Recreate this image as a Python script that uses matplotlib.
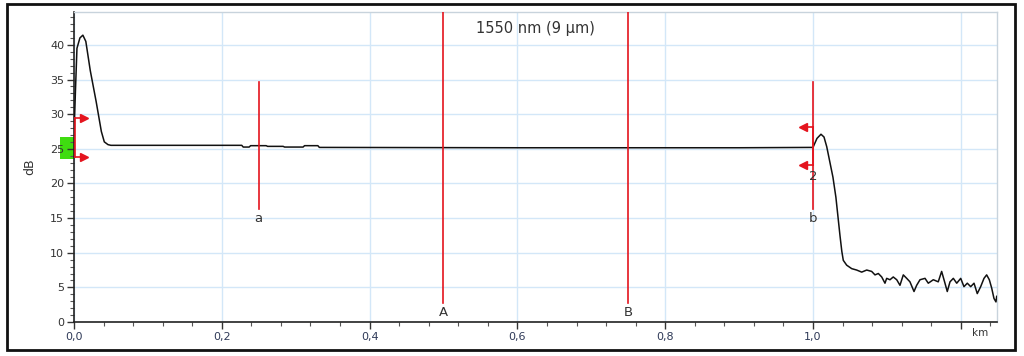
import matplotlib
matplotlib.use("Agg")
import matplotlib.pyplot as plt
from matplotlib.ticker import MultipleLocator, FuncFormatter
from matplotlib.patches import Rectangle

# ---- data ----
dist_km = [0.0, 0.002, 0.004, 0.008, 0.012, 0.016, 0.022, 0.030, 0.037, 0.041, 0.046, 0.050,
           0.227, 0.229, 0.237, 0.239, 0.26, 0.262, 0.283, 0.285, 0.31, 0.312, 0.33, 0.332,
           0.6, 0.9, 1.000, 1.0054, 1.0108, 1.0149, 1.0186, 1.027, 1.031, 1.0365, 1.039,
           1.041, 1.0456, 1.0524, 1.0591, 1.0659, 1.0727, 1.0794, 1.0839, 1.0884, 1.093,
           1.0974, 1.0997, 1.1042, 1.1086, 1.1133, 1.1177, 1.1222, 1.1268, 1.1312, 1.1367,
           1.1403, 1.1448, 1.1516, 1.156, 1.1628, 1.1695, 1.1741, 1.1786, 1.1817, 1.1854,
           1.1899, 1.1945, 1.1999, 1.2043, 1.2088, 1.2134, 1.2179, 1.2223, 1.2269, 1.2314,
           1.235, 1.2386, 1.2418, 1.2449, 1.2476, 1.2486]
level_db = [27.0, 33.5, 39.5, 41.0, 41.4, 40.5, 36.3, 31.8, 27.5, 26.0, 25.6, 25.5,
            25.5, 25.25, 25.25, 25.45, 25.45, 25.35, 25.35, 25.25, 25.25, 25.45, 25.45, 25.2,
            25.15, 25.15, 25.2, 26.5, 27.1, 26.7, 25.3, 20.9, 18.0, 12.5, 10.2,
            8.9, 8.2, 7.7, 7.5, 7.2, 7.5, 7.3, 6.8, 7.0, 6.5,
            5.6, 6.3, 6.1, 6.5, 6.1, 5.3, 6.8, 6.3, 5.8, 4.4,
            5.3, 6.1, 6.3, 5.6, 6.1, 5.8, 7.3, 5.6, 4.4, 5.8,
            6.3, 5.6, 6.3, 5.1, 5.6, 5.1, 5.6, 4.1, 5.1, 6.3,
            6.8, 6.1, 4.9, 3.4, 2.9, 3.7]

event_names = ["a", "b"]
event_pos = [0.25, 1.0]
cursor_names = ["A", "B"]
cursor_pos = [0.5, 0.75]
title_text = "1550 nm (9 µm)"

RED = "#e4141e"
TXT = "#333333"

fig = plt.figure(figsize=(10.24, 3.56), dpi=100)
ax = fig.add_axes([74/1024, 1-322/356, (997-74)/1024, (322-12.3)/356])
ax.set_zorder(1)

ax.set_xlim(0, 1.249)
ax.set_ylim(0, 44.7)

ax.xaxis.set_major_locator(MultipleLocator(0.2))
ax.xaxis.set_minor_locator(MultipleLocator(0.04))
ax.yaxis.set_major_locator(MultipleLocator(5))
ax.yaxis.set_minor_locator(MultipleLocator(1))
ax.xaxis.set_major_formatter(FuncFormatter(
    lambda v, p: "" if v > 1.1 else f"{v:.1f}".replace(".", ",")))
ax.grid(True, which="major", color="#d3e7f8", linewidth=1.0)
ax.set_axisbelow(True)

ax.tick_params(axis="both", which="major", direction="out", length=5, width=1,
               color="#333333", labelsize=8, pad=2)
ax.tick_params(axis="both", which="minor", direction="out", length=3, width=0.8,
               color="#555555")
ax.tick_params(axis="y", labelcolor=TXT)
ax.tick_params(axis="x", labelcolor="#2f3a58")

for s in ["left", "bottom"]:
    ax.spines[s].set_color("#222222")
    ax.spines[s].set_linewidth(1.2)
for s in ["top", "right"]:
    ax.spines[s].set_color("#c8d3dc")
    ax.spines[s].set_linewidth(1.0)

ax.set_ylabel("dB", fontsize=9, color=TXT, labelpad=10)
ax.text(1.226, -1.6, "km", fontsize=7.5, color=TXT, ha="center", va="center", clip_on=False)

# green marker box left of the axis (drawn behind tick labels)
fig.patches.append(Rectangle((60/1024, 1-159/356), 14/1024, 22/356,
                             transform=fig.transFigure, facecolor="#3fdc10",
                             edgecolor="none", zorder=-1))

# trace
ax.plot(dist_km, level_db, color="#111111", linewidth=1.1, zorder=4)

# event markers a, b
for name, pos in zip(event_names, event_pos):
    ax.plot([pos, pos], [16.3, 34.6], color=RED, linewidth=1.2, zorder=5)
    ax.text(pos, 14.9, name, fontsize=9.5, color=TXT, ha="center", va="center", zorder=6)

# cursors A, B
for name, pos in zip(cursor_names, cursor_pos):
    ax.plot([pos, pos], [2.7, 44.7], color=RED, linewidth=1.2, zorder=5)
    ax.text(pos, 1.4, name, fontsize=9.5, color=TXT, ha="center", va="center", zorder=6)

# marker 1 (start)
ax.plot([0.001, 0.001], [23.8, 29.4], color=RED, linewidth=1.2, zorder=5, clip_on=False)
for yv in [29.4, 23.8]:
    ax.plot([0.001, 0.012], [yv, yv], color=RED, linewidth=1.2, zorder=5)
    ax.plot([0.014], [yv], marker=">", color=RED, markersize=6, zorder=5)

# marker 2 (end)
ax.plot([1.0, 1.0], [22.6, 28.1], color=RED, linewidth=1.2, zorder=5)
for yv in [28.1, 22.6]:
    ax.plot([0.989, 1.0], [yv, yv], color=RED, linewidth=1.2, zorder=5)
    ax.plot([0.987], [yv], marker="<", color=RED, markersize=6, zorder=5)
ax.text(1.0, 21.0, "2", fontsize=9.5, color=TXT, ha="center", va="center", zorder=6)

ax.text(0.624, 42.4, title_text, fontsize=10.5, color=TXT, ha="center", va="center")

# outer border
fig.patches.append(Rectangle((7/1024, 1-350/356), (1015-7)/1024, (350-4)/356,
                             transform=fig.transFigure, fill=False, edgecolor="#111111",
                             linewidth=2.0, zorder=2))

fig.savefig("out.png", dpi=100)
